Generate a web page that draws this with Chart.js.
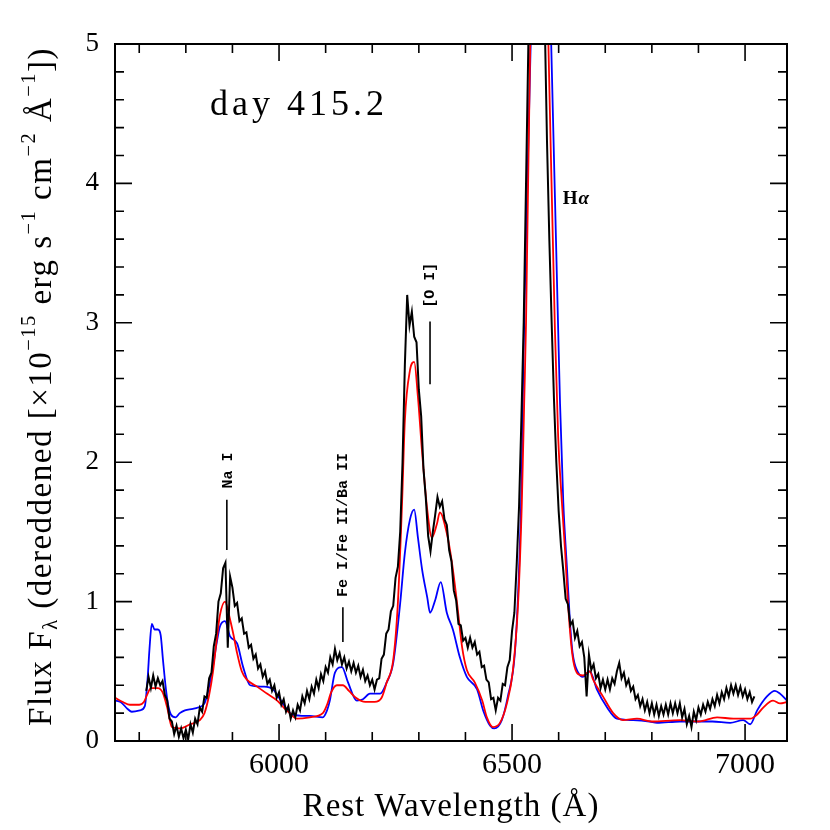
<!DOCTYPE html>
<html><head><meta charset="utf-8">
<script src="https://cdn.jsdelivr.net/npm/chart.js@4/dist/chart.umd.min.js"></script>
<style>html,body{margin:0;padding:0;background:#fff}#wrap{width:830px;height:830px}</style>
</head><body><div id="wrap"><canvas id="c" width="830" height="830"></canvas></div>
<script>
// ---- data ----
const xTickValues = [6000, 6500, 7000];
const yTickValues = [0, 1, 2, 3, 4, 5];

// observed spectrum, sampled every 5 Å starting at 5715 Å
const blackStart = 5715, blackStep = 5;
const blackFlux = [
  0.36,0.46,0.38,0.47,0.39,0.45,0.40,0.43,0.33,0.29,
  0.16,0.14,0.05,0.11,0.03,0.09,0.02,0.08,0.01,0.12,
  0.06,0.16,0.12,0.24,0.21,0.32,0.31,0.45,0.49,0.68,
  0.77,1.00,1.06,1.24,1.28,0.67,1.18,1.10,0.97,0.99,
  0.86,0.88,0.77,0.78,0.67,0.69,0.59,0.62,0.52,0.55,
  0.46,0.50,0.41,0.44,0.36,0.40,0.31,0.35,0.26,0.30,
  0.21,0.25,0.16,0.22,0.17,0.26,0.22,0.32,0.27,0.36,
  0.30,0.39,0.34,0.44,0.38,0.48,0.43,0.53,0.49,0.60,
  0.55,0.66,0.58,0.63,0.55,0.60,0.52,0.57,0.50,0.56,
  0.49,0.54,0.46,0.51,0.43,0.47,0.40,0.44,0.37,0.44,
  0.45,0.59,0.62,0.77,0.80,0.93,0.97,1.17,1.25,1.50,
  2.00,2.70,3.20,2.98,3.08,2.90,2.86,2.52,2.33,1.95,
  1.74,1.47,1.36,1.50,1.62,1.75,1.68,1.72,1.59,1.55,
  1.37,1.29,1.08,1.01,0.84,0.83,0.72,0.74,0.67,0.74,
  0.67,0.71,0.62,0.64,0.53,0.54,0.44,0.42,0.30,0.31,
  0.22,0.31,0.29,0.41,0.40,0.53,0.58,0.79,0.92,1.27,
  1.68,2.30,3.00,4.00,5.00,5.80,6.40,6.70,6.80,6.60,
  6.20,5.20,4.30,3.60,3.00,2.45,2.00,1.65,1.40,1.22,
  1.02,0.98,0.83,0.86,0.74,0.79,0.68,0.71,0.60,0.32,
  0.62,0.51,0.55,0.45,0.48,0.38,0.44,0.37,0.44,0.37,
  0.45,0.41,0.50,0.56,0.45,0.49,0.40,0.44,0.36,0.39,
  0.30,0.33,0.25,0.30,0.22,0.28,0.20,0.27,0.19,0.26,
  0.18,0.25,0.19,0.26,0.19,0.27,0.20,0.27,0.20,0.27,
  0.17,0.23,0.12,0.18,0.10,0.21,0.15,0.24,0.19,0.26,
  0.21,0.28,0.23,0.30,0.25,0.33,0.27,0.35,0.30,0.38,
  0.32,0.40,0.34,0.40,0.33,0.39,0.32,0.37,0.30,0.35,
  0.28,0.32
];

// red model [wavelength, flux]
const redModel = [
  [5648,0.31],[5665,0.28],[5680,0.26],[5700,0.26],[5710,0.28],[5718,0.34],[5725,0.38],[5740,0.38],
  [5750,0.35],[5760,0.24],[5770,0.10],[5787,0.09],[5809,0.12],[5830,0.15],[5840,0.20],[5850,0.33],
  [5858,0.49],[5866,0.72],[5873,0.90],[5884,1.00],[5895,0.87],[5903,0.75],[5910,0.63],[5920,0.50],
  [5931,0.44],[5953,0.39],[5974,0.34],[5996,0.29],[6010,0.24],[6023,0.20],[6038,0.16],[6066,0.17],
  [6094,0.20],[6103,0.26],[6112,0.35],[6124,0.40],[6137,0.40],[6150,0.36],[6165,0.31],[6185,0.28],
  [6205,0.28],[6220,0.31],[6231,0.42],[6245,0.58],[6255,0.99],[6264,1.71],[6270,2.30],[6281,2.66],
  [6290,2.72],[6298,2.47],[6307,2.07],[6318,1.66],[6328,1.46],[6339,1.56],[6345,1.64],[6360,1.49],
  [6371,1.28],[6382,0.99],[6393,0.67],[6403,0.51],[6420,0.42],[6436,0.29],[6446,0.17],[6459,0.10],
  [6474,0.13],[6489,0.27],[6502,0.51],[6513,0.99],[6521,1.71],[6526,2.42],[6530,3.00],[6539,5.00],
  [6549,6.40],[6559,6.90],[6569,6.30],[6578,5.00],[6592,2.95],[6599,2.18],[6607,1.71],[6614,1.35],
  [6620,0.99],[6629,0.63],[6639,0.49],[6652,0.47],[6667,0.50],[6674,0.44],[6695,0.32],[6717,0.20],
  [6738,0.15],[6768,0.16],[6800,0.14],[6860,0.15],[6900,0.14],[6940,0.17],[6975,0.16],[7011,0.16],
  [7026,0.19],[7039,0.24],[7060,0.29],[7075,0.27],[7090,0.28]
];

// blue model [wavelength, flux]
const blueModel = [
  [5648,0.29],[5660,0.28],[5675,0.23],[5684,0.21],[5702,0.22],[5712,0.25],[5718,0.45],[5722,0.66],
  [5727,0.84],[5733,0.80],[5740,0.80],[5746,0.76],[5751,0.58],[5757,0.38],[5762,0.26],[5768,0.19],
  [5778,0.17],[5787,0.20],[5798,0.22],[5815,0.23],[5826,0.24],[5840,0.27],[5848,0.36],[5858,0.53],
  [5866,0.70],[5873,0.82],[5884,0.86],[5895,0.75],[5910,0.70],[5923,0.53],[5938,0.40],[5966,0.39],
  [5987,0.37],[6008,0.27],[6028,0.19],[6066,0.18],[6094,0.17],[6103,0.22],[6109,0.29],[6120,0.49],
  [6135,0.53],[6148,0.42],[6167,0.29],[6180,0.30],[6195,0.34],[6217,0.34],[6231,0.42],[6245,0.56],
  [6260,0.99],[6270,1.35],[6281,1.59],[6290,1.66],[6298,1.46],[6307,1.23],[6318,1.03],[6324,0.92],
  [6335,1.01],[6347,1.14],[6360,0.92],[6373,0.80],[6388,0.60],[6403,0.46],[6425,0.37],[6438,0.22],
  [6453,0.11],[6462,0.09],[6478,0.15],[6491,0.32],[6506,0.63],[6515,1.23],[6521,1.94],[6524,2.66],
  [6528,3.30],[6540,5.00],[6551,6.50],[6563,7.00],[6574,6.30],[6584,5.00],[6599,2.95],[6603,2.42],
  [6610,1.71],[6618,1.23],[6624,0.87],[6630,0.63],[6642,0.49],[6652,0.46],[6667,0.50],[6682,0.37],
  [6704,0.24],[6725,0.16],[6760,0.15],[6795,0.14],[6811,0.13],[6860,0.14],[6930,0.14],[6968,0.13],
  [6996,0.15],[7011,0.12],[7026,0.22],[7047,0.32],[7064,0.36],[7075,0.34],[7090,0.29]
];

const xTitle = 'Rest Wavelength (Å)';
const dayLabel = 'day 415.2';

// ---- chart ----
const SERIF = '"Liberation Serif", "Times New Roman", serif';
const MONO = '"Liberation Mono", "Courier New", monospace';

const framePlugin = {
  id: 'frameTicks',
  afterDatasetsDraw(chart) {
    const {ctx, chartArea: a, scales: {x, y}} = chart;
    ctx.save();
    ctx.strokeStyle = '#000';
    ctx.lineWidth = 1.6;
    ctx.beginPath();
    for (let w = 5700; w <= 7050; w += 100) {
      const px = x.getPixelForValue(w);
      const len = (w % 500 === 0) ? 17 : 9;
      ctx.moveTo(px, a.bottom); ctx.lineTo(px, a.bottom - len);
      ctx.moveTo(px, a.top); ctx.lineTo(px, a.top + len);
    }
    for (let k = 1; k < 25; k++) {
      const v = k * 0.2;
      const py = y.getPixelForValue(v);
      const len = (k % 5 === 0) ? 17 : 9;
      ctx.moveTo(a.left, py); ctx.lineTo(a.left + len, py);
      ctx.moveTo(a.right, py); ctx.lineTo(a.right - len, py);
    }
    ctx.stroke();
    ctx.lineWidth = 2;
    ctx.strokeRect(a.left, a.top, a.right - a.left, a.bottom - a.top);

    // line identification markers
    ctx.lineWidth = 1.6;
    const mark = (w, v1, v2) => {
      const px = x.getPixelForValue(w);
      ctx.beginPath();
      ctx.moveTo(px, y.getPixelForValue(v1));
      ctx.lineTo(px, y.getPixelForValue(v2));
      ctx.stroke();
    };
    mark(5888, 1.37, 1.73);
    mark(6137, 0.71, 0.96);
    mark(6324, 2.56, 3.01);

    ctx.fillStyle = '#000';
    const vtext = (t, w, v) => {
      ctx.save();
      ctx.translate(x.getPixelForValue(w), y.getPixelForValue(v));
      ctx.rotate(-Math.PI / 2);
      ctx.textAlign = 'center';
      ctx.textBaseline = 'middle';
      ctx.fillText(t, 0, 0);
      ctx.restore();
    };
    ctx.font = 'bold 15px ' + MONO;
    vtext('Na I', 5891, 1.94);
    vtext('Fe I/Fe II/Ba II', 6137, 1.55);
    vtext('[O I]', 6324, 3.27);

    // H alpha
    ctx.textAlign = 'left';
    ctx.textBaseline = 'middle';
    const hx = x.getPixelForValue(6609), hy = y.getPixelForValue(3.89);
    ctx.font = 'bold 19px ' + SERIF;
    ctx.fillText('H', hx, hy);
    const hw = ctx.measureText('H').width;
    ctx.font = 'italic bold 19px ' + SERIF;
    ctx.fillText('α', hx + hw + 1, hy);

    // day label
    ctx.font = '36px ' + SERIF;
    ctx.textBaseline = 'alphabetic';
    ctx.letterSpacing = '4px';
    ctx.fillText(dayLabel, x.getPixelForValue(5852), y.getPixelForValue(4.49));
    ctx.letterSpacing = '0px';

    // x title
    ctx.textAlign = 'center';
    ctx.font = '33px ' + SERIF;
    ctx.letterSpacing = '1px';
    ctx.fillText(xTitle, (a.left + a.right) / 2, 816);
    ctx.letterSpacing = '0px';

    // y title with sub/superscripts
    const segs = [
      ['Flux F', 0, 1], ['λ', 0.3, 0.62], [' (dereddened [×10', 0, 1], ['−15', -0.38, 0.62],
      [' erg s', 0, 1], ['−1', -0.38, 0.62], [' cm', 0, 1], ['−2', -0.38, 0.62],
      [' Å', 0, 1], ['−1', -0.38, 0.62], ['])', 0, 1]
    ];
    const base = 33;
    ctx.save();
    ctx.translate(42, (a.top + a.bottom) / 2 - 6);
    ctx.rotate(-Math.PI / 2);
    ctx.textAlign = 'left';
    ctx.textBaseline = 'middle';
    ctx.letterSpacing = '1.5px';
    let total = 0;
    for (const s of segs) { ctx.font = (base * s[2]) + 'px ' + SERIF; total += ctx.measureText(s[0]).width; }
    let cx = -total / 2;
    for (const s of segs) {
      ctx.font = (base * s[2]) + 'px ' + SERIF;
      ctx.fillText(s[0], cx, s[1] * base);
      cx += ctx.measureText(s[0]).width;
    }
    ctx.restore();
    ctx.restore();
  }
};

new Chart(document.getElementById('c'), {
  type: 'line',
  data: {
    datasets: [
      {
        label: 'observed',
        data: blackFlux.map((v, i) => ({x: blackStart + i * blackStep, y: v})),
        borderColor: '#000', borderWidth: 2, pointRadius: 0, tension: 0, order: 0
      },
      {
        label: 'model red',
        data: redModel.map(p => ({x: p[0], y: p[1]})),
        borderColor: '#ff0000', borderWidth: 1.8, pointRadius: 0,
        cubicInterpolationMode: 'monotone', order: 1
      },
      {
        label: 'model blue',
        data: blueModel.map(p => ({x: p[0], y: p[1]})),
        borderColor: '#0000ff', borderWidth: 1.8, pointRadius: 0,
        cubicInterpolationMode: 'monotone', order: 2
      }
    ]
  },
  options: {
    responsive: false,
    devicePixelRatio: 1,
    animation: false,
    layout: {padding: {left: 0, top: 44, right: 43, bottom: 0}},
    plugins: {legend: {display: false}, tooltip: {enabled: false}},
    scales: {
      x: {
        type: 'linear', min: 5648, max: 7090,
        afterBuildTicks: s => { s.ticks = xTickValues.map(v => ({value: v})); },
        afterFit: s => { s.height = 89; },
        grid: {display: false, drawTicks: false},
        border: {display: false},
        ticks: {color: '#000', font: {family: SERIF, size: 30}, padding: 6, maxRotation: 0,
                callback: v => String(v)}
      },
      y: {
        type: 'linear', min: 0, max: 5,
        afterBuildTicks: s => { s.ticks = yTickValues.map(v => ({value: v})); },
        afterFit: s => { s.width = 115; },
        grid: {display: false, drawTicks: false},
        border: {display: false},
        ticks: {color: '#000', font: {family: SERIF, size: 27}, padding: 16,
                callback: v => String(v)}
      }
    }
  },
  plugins: [framePlugin]
});
</script>
</body></html>
